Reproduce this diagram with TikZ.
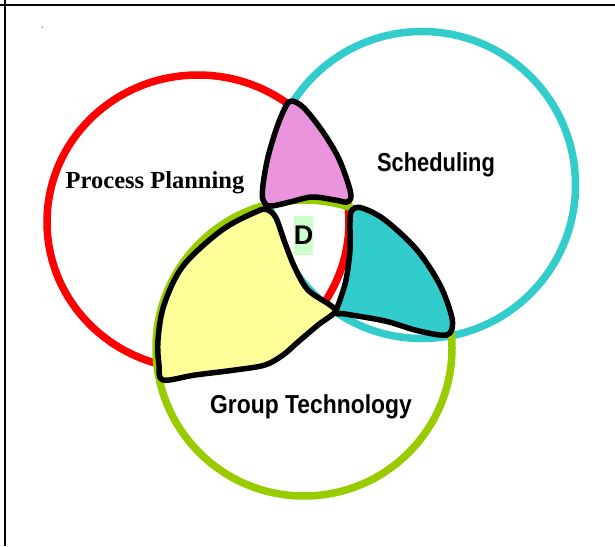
\documentclass[tikz,border=0pt]{standalone}
\usepackage{fontspec}
\setmainfont{Liberation Serif}
\newfontfamily\arialfont{Liberation Sans}
\usepackage{graphicx}
\definecolor{ringred}{RGB}{255,0,0}
\definecolor{ringcyan}{RGB}{51,204,204}
\definecolor{ringgreen}{RGB}{153,204,0}
\definecolor{regpink}{RGB}{233,148,220}
\definecolor{regyellow}{RGB}{255,255,153}
\definecolor{regteal}{RGB}{51,204,204}
\definecolor{dbox}{RGB}{204,255,204}
\begin{document}
\begin{tikzpicture}[x=1pt,y=-1pt,
  ring/.style={line width=7.5pt},
  region/.style={draw=black,line width=5.5pt,line join=round},
  frameline/.style={line width=1.8pt,black},
  sanslabel/.style={anchor=base,font=\arialfont\bfseries\fontsize{26}{28}\selectfont},
  serlabel/.style={anchor=base,font=\bfseries\fontsize{24.5}{26}\selectfont}]
\useasboundingbox (0,0) rectangle (615,546);
\fill[white] (0,0) rectangle (615,546);
\draw[frameline] (0,5.3) -- (615,5.3);
\draw[frameline] (4.7,0) -- (4.7,546);
\fill[gray] (42.4,27.3) circle [radius=0.8pt];
% rings
\draw[ring,ringred] (198,222) ellipse [x radius=151pt, y radius=147pt];
\draw[ring,ringcyan] (422,185) circle [radius=153.5pt];
\draw[ring,ringgreen] (304,348) circle [radius=148pt];
% regions
\draw[region,fill=regpink] plot[smooth cycle,tension=0.55] coordinates {
 (292,101) (304,108) (323,132) (338,157) (347,180) (351,196)
 (347,202) (335,200) (312,197) (290,202) (270,206)
 (263,200) (263,185) (268,157) (277,127) (286,106)};
\draw[region,fill=regyellow] plot[smooth cycle,tension=0.55] coordinates {
 (268,210) (276,218) (285,243) (295,268) (308,290) (330,305)
 (335,312) (318,325) (298,342) (283,355) (265,365) (235,370) (195,375)
 (163,380) (159,365) (158,340) (164,305) (183,266) (222,230) (258,211)};
\draw[region,fill=regteal] plot[smooth cycle,tension=0.55] coordinates {
 (352,210) (362,208) (385,220) (417,250) (440,285) (452,318)
 (450,333) (440,335) (415,330) (385,321) (345,314)
 (336,313) (340,300) (346,280) (350,250) (350,222)};
% labels
\node[serlabel] (pp) at (155,188) {Process Planning};
\node[sanslabel] (sch) at (436,171) {\scalebox{0.84}[1]{Scheduling}};
\node[sanslabel] (gt) at (311,413) {\scalebox{0.88}[1]{Group Technology}};
\node[fill=dbox,minimum width=19pt,minimum height=39pt,inner sep=0pt,
  font=\arialfont\bfseries\fontsize{27}{29}\selectfont] (d) at (303.5,235.5) {D};
\end{tikzpicture}
\end{document}
